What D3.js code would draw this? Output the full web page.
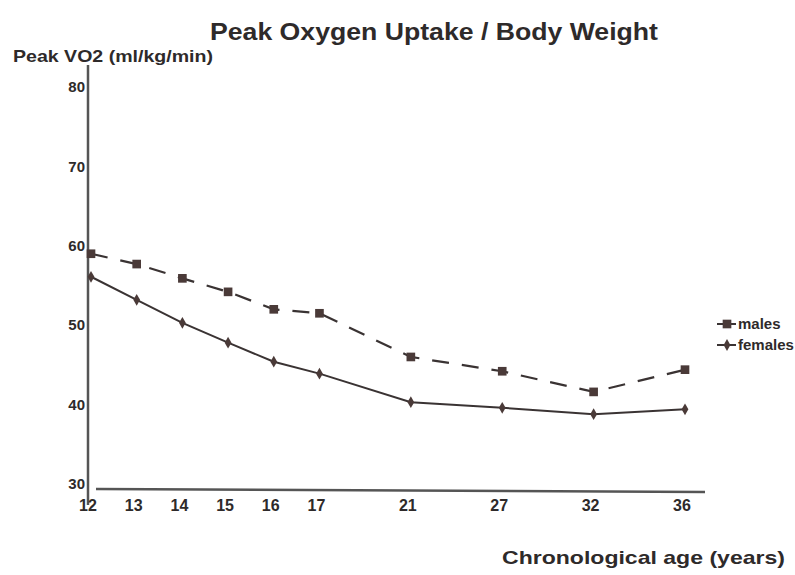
<!DOCTYPE html>
<meta charset="utf-8">
<style>
  body { margin: 0; background: #fff; }
  text { font-family: "Liberation Sans", Arial, sans-serif; fill: #2e2a2a; }
</style>
<svg width="795" height="575"></svg>
<script src="https://cdn.jsdelivr.net/npm/d3@7"></script>
<script>

// ages (chronological age, years) and peak VO2 per body weight
var ages = [12, 13, 14, 15, 16, 17, 21, 27, 32, 36];
var males = [59.0, 57.7, 55.9, 54.2, 52.0, 51.5, 46.0, 44.2, 41.6, 44.4];
var females = [56.1, 53.2, 50.3, 47.8, 45.4, 43.9, 40.3, 39.6, 38.8, 39.4];
var yTicks = [30, 40, 50, 60, 70, 80];

var svg = d3.select("svg"),
    ink = "#3a3333";

// age jumps of more than a year get one blank slot on the axis
var slots = [];
ages.forEach(function(a, i) {
  if (i > 0 && a - ages[i - 1] > 1) slots.push("gap" + i);
  slots.push(String(a));
});

var x = d3.scalePoint().domain(slots).range([91, 685]);
var y = d3.scaleLinear().domain([30, 80]).range([484, 87]);

// title
svg.append("text")
    .attr("x", 210).attr("y", 40)
    .attr("font-size", 23).attr("font-weight", "bold")
    .attr("textLength", 448).attr("lengthAdjust", "spacingAndGlyphs")
    .text("Peak Oxygen Uptake / Body Weight");

svg.append("text")
    .attr("x", 13).attr("y", 62)
    .attr("font-size", 17).attr("font-weight", "bold")
    .attr("fill", "#3a3535")
    .attr("textLength", 200).attr("lengthAdjust", "spacingAndGlyphs")
    .text("Peak VO2 (ml/kg/min)");

svg.append("text")
    .attr("x", 502).attr("y", 564)
    .attr("font-size", 19).attr("font-weight", "bold")
    .attr("fill", "#3a3535")
    .attr("textLength", 283).attr("lengthAdjust", "spacingAndGlyphs")
    .text("Chronological age (years)");

// axes
svg.append("line")
    .attr("x1", 88).attr("x2", 88)
    .attr("y1", 65).attr("y2", 505)
    .attr("stroke", "#555").attr("stroke-width", 2.5);

svg.append("line")
    .attr("x1", 96).attr("x2", 705)
    .attr("y1", y(30) + 5).attr("y2", y(30) + 8)
    .attr("stroke", "#555").attr("stroke-width", 2.5);

svg.append("g")
  .selectAll("text")
  .data(yTicks)
  .enter().append("text")
    .attr("x", 85)
    .attr("y", function(d) { return y(d); })
    .attr("dy", "0.35em")
    .attr("text-anchor", "end")
    .attr("font-size", 15).attr("font-weight", "bold")
    .attr("fill", "#3a3535")
    .text(function(d) { return d; });

svg.append("g")
  .selectAll("text")
  .data(ages)
  .enter().append("text")
    .attr("x", function(d) { return x(String(d)) - 3; })
    .attr("y", 511)
    .attr("text-anchor", "middle")
    .attr("font-size", 16).attr("font-weight", "bold")
    .attr("fill", "#3a3535")
    .text(function(d) { return d; });

// series
var line = d3.line()
    .x(function(d, i) { return x(String(ages[i])); })
    .y(function(d) { return y(d); });

svg.append("path")
    .datum(males)
    .attr("fill", "none")
    .attr("stroke", ink)
    .attr("stroke-width", 2.2)
    .attr("stroke-dasharray", "17,13")
    .attr("d", line);

svg.append("path")
    .datum(females)
    .attr("fill", "none")
    .attr("stroke", ink)
    .attr("stroke-width", 2)
    .attr("d", line);

var square = d3.symbol().type(d3.symbolSquare).size(75),
    diamond = d3.symbol().type(d3.symbolDiamond).size(40);

svg.append("g")
  .selectAll("path")
  .data(males)
  .enter().append("path")
    .attr("transform", function(d, i) { return "translate(" + x(String(ages[i])) + "," + y(d) + ")"; })
    .attr("fill", "#4a3a38")
    .attr("d", square);

svg.append("g")
  .selectAll("path")
  .data(females)
  .enter().append("path")
    .attr("transform", function(d, i) { return "translate(" + x(String(ages[i])) + "," + y(d) + ")"; })
    .attr("fill", "#4a3a38")
    .attr("d", diamond);

// legend
var legend = svg.append("g")
  .selectAll("g")
  .data([{name: "males", sym: square}, {name: "females", sym: diamond}])
  .enter().append("g")
    .attr("transform", function(d, i) { return "translate(727," + (324 + i * 21) + ")"; });

legend.append("line")
    .attr("x1", -10).attr("x2", 9)
    .attr("stroke", ink).attr("stroke-width", 2);

legend.append("path")
    .attr("fill", "#4a3a38")
    .attr("d", function(d) { return d.sym(); });

legend.append("text")
    .attr("x", 11)
    .attr("dy", "0.35em")
    .attr("font-size", 15).attr("font-weight", "bold")
    .attr("fill", "#3a3535")
    .text(function(d) { return d.name; });

</script>
